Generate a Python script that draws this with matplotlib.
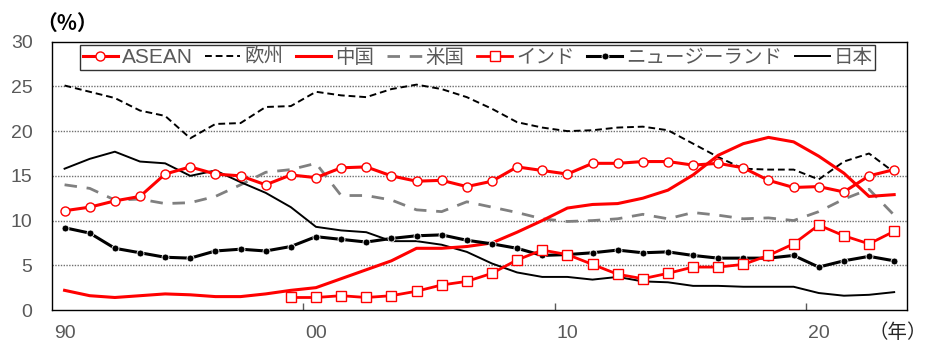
import numpy as np
import matplotlib
matplotlib.use("Agg")
import matplotlib.pyplot as plt
from matplotlib.ticker import FixedLocator

plt.rcParams['font.family'] = ['Liberation Sans', 'Noto Sans CJK JP', 'DejaVu Sans']

years = list(range(1990, 2024))
india_years = list(range(1999, 2024))

asean = [11.1, 11.5, 12.2, 12.7, 15.2, 16.0, 15.2, 15.0, 14.0, 15.1,
         14.8, 15.9, 16.0, 15.0, 14.4, 14.5, 13.8, 14.4, 16.0, 15.6,
         15.2, 16.4, 16.4, 16.6, 16.6, 16.2, 16.4, 15.9, 14.5, 13.7,
         13.8, 13.2, 15.0, 15.7]
europe = [25.1, 24.4, 23.7, 22.3, 21.7, 19.2, 20.8, 20.9, 22.7, 22.8,
          24.4, 24.0, 23.8, 24.7, 25.2, 24.7, 23.8, 22.5, 21.0, 20.4,
          20.0, 20.1, 20.4, 20.5, 20.1, 18.6, 17.1, 15.8, 15.7, 15.7,
          14.6, 16.6, 17.5, 15.4]
china = [2.2, 1.6, 1.4, 1.6, 1.8, 1.7, 1.5, 1.5, 1.8, 2.2,
         2.5, 3.5, 4.5, 5.5, 6.9, 6.9, 7.1, 7.5, 8.7, 10.0,
         11.4, 11.8, 11.9, 12.5, 13.4, 15.1, 17.3, 18.6, 19.3, 18.8,
         17.2, 15.3, 12.7, 12.9]
usa = [14.0, 13.6, 12.3, 12.4, 11.9, 12.0, 12.7, 14.0, 15.4, 15.7,
       16.4, 12.8, 12.8, 12.3, 11.2, 11.0, 12.1, 11.5, 10.9, 10.2,
       9.9, 10.0, 10.2, 10.7, 10.2, 10.9, 10.6, 10.2, 10.3, 10.0,
       11.0, 12.4, 13.5, 10.6]
india = [1.4, 1.4, 1.6, 1.4, 1.6, 2.1, 2.8, 3.2, 4.1, 5.6,
         6.7, 6.2, 5.1, 4.0, 3.5, 4.1, 4.8, 4.8, 5.1, 6.1,
         7.4, 9.5, 8.3, 7.4, 8.8]
nz = [9.2, 8.6, 6.9, 6.4, 5.9, 5.8, 6.6, 6.8, 6.6, 7.1,
      8.2, 7.9, 7.6, 8.0, 8.3, 8.4, 7.8, 7.4, 6.9, 6.1,
      6.2, 6.4, 6.7, 6.4, 6.5, 6.1, 5.8, 5.8, 5.8, 6.1,
      4.8, 5.5, 6.0, 5.5]
japan = [15.8, 16.9, 17.7, 16.6, 16.4, 15.0, 15.6, 14.3, 13.1, 11.5,
         9.3, 8.9, 8.7, 7.7, 7.7, 7.3, 6.5, 5.2, 4.2, 3.7,
         3.7, 3.4, 3.7, 3.2, 3.1, 2.7, 2.7, 2.6, 2.6, 2.6,
         1.9, 1.6, 1.7, 2.0]

label_years = [1990, 2000, 2010, 2020]
label_text = ['90', '00', '10', '20']

red = '#FF0000'
fig = plt.figure(figsize=(9.32, 3.44), dpi=100)
ax = fig.add_axes([0.0558, 0.0988, 0.9171, 0.780])

ax.plot(years, europe, color='black', lw=1.4, dashes=(3.5, 2), label='欧州', zorder=3)
ax.plot(years, usa, color='#808080', lw=2.0, dashes=(4.5, 3.5), label='米国', zorder=3)
ax.plot(years, japan, color='black', lw=1.4, label='日本', zorder=3)
ax.plot(years, china, color=red, lw=2.2, label='中国', zorder=4)
ax.plot(years, nz, color='black', lw=2.2, marker='o', ms=5,
        mfc='black', mec='white', mew=0.6, label='ニュージーランド', zorder=4)
ax.plot(india_years, india, color=red, lw=2.0, marker='s', ms=6.5,
        mfc='white', mec=red, mew=1.0, label='インド', zorder=5)
ax.plot(years, asean, color=red, lw=2.2, marker='o', ms=6.5,
        mfc='white', mec=red, mew=1.0, label='ASEAN', zorder=5)

ax.set_xlim(1989.5, 2023.5)
ax.set_ylim(0, 30)
ax.set_yticks(range(0, 31, 5))
ax.set_xticks(label_years)
ax.set_xticklabels(label_text)
ax.xaxis.set_minor_locator(FixedLocator([1999.5, 2009.5, 2019.5]))
ax.tick_params(axis='x', which='major', length=0, pad=11, labelsize=14, labelcolor='#595959')
ax.tick_params(axis='x', which='minor', direction='in', length=5, width=1, color='#595959')
ax.tick_params(axis='y', length=0, pad=14, labelsize=14, labelcolor='#595959')

for y in range(5, 30, 5):
    ax.axhline(y, color='#707070', lw=1.0, ls=(0, (1, 1)), zorder=1)

for s in ax.spines.values():
    s.set_color('black')
    s.set_linewidth(1.0)

handles, labels = ax.get_legend_handles_labels()
order = ['ASEAN', '欧州', '中国', '米国', 'インド', 'ニュージーランド', '日本']
hmap = dict(zip(labels, handles))
leg = ax.legend([hmap[k] for k in order], order, loc='upper left',
                bbox_to_anchor=(0.0328, 0.9877), borderaxespad=0, ncol=7,
                fontsize=14, frameon=True, fancybox=False, edgecolor='black',
                handlelength=1.8, handletextpad=0.2, columnspacing=0.65,
                borderpad=0.15, labelspacing=0.2)
leg.get_frame().set_linewidth(1.0)
for t in leg.get_texts():
    t.set_color('#595959')
leg.get_texts()[0].set_fontsize(15)

fig.text(67 / 932, 1 - 23 / 344, '（%）', fontsize=15, fontweight='bold',
         color='black', va='center', ha='center', family=['Noto Sans CJK JP'])
fig.text(898 / 932, 1 - 333 / 344, '（年）', fontsize=14,
         color='#262626', va='center', ha='center', family=['Noto Sans CJK JP'])

fig.savefig('out.png', dpi=100)
